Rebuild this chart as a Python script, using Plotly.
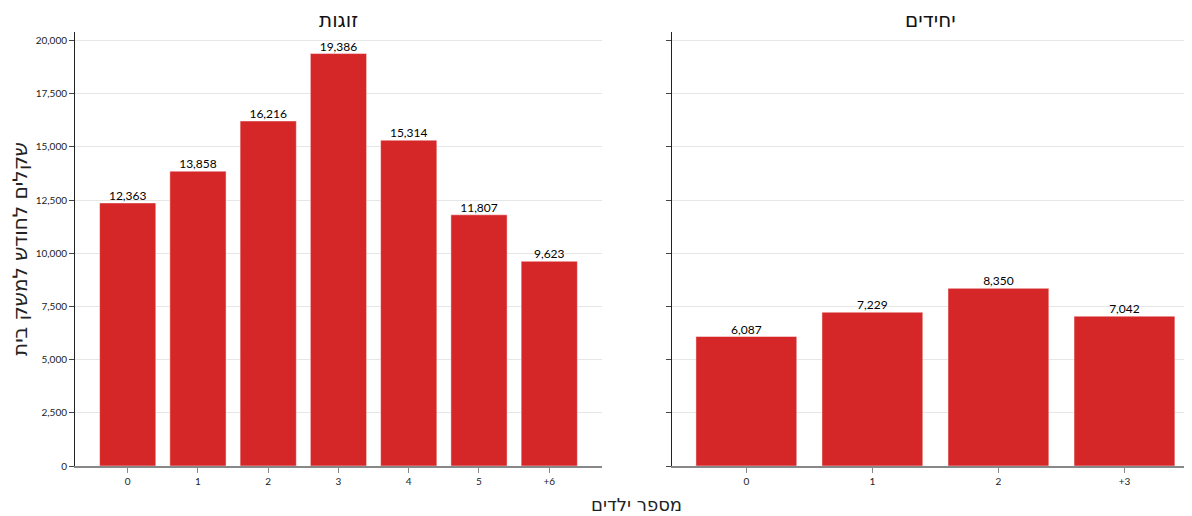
import plotly.graph_objects as go

couples_cats = ["0", "1", "2", "3", "4", "5", "+6"]
couples_vals = [12363, 13858, 16216, 19386, 15314, 11807, 9623]
singles_cats = ["0", "1", "2", "+3"]
singles_vals = [6087, 7229, 8350, 7042]
y_ticks = [0, 2500, 5000, 7500, 10000, 12500, 15000, 17500, 20000]

panel_titles = ["זוגות", "יחידים"]
y_title = "שקלים לחודש למשק בית"
x_title = "מספר ילדים"

RED = "#d62728"
FONT = "Lato"
HEB = "DejaVu Sans"

fig = go.Figure()
for cats, vals, xa, ya in [(couples_cats, couples_vals, "x", "y"),
                           (singles_cats, singles_vals, "x2", "y2")]:
    fig.add_trace(go.Bar(
        x=cats, y=vals, xaxis=xa, yaxis=ya,
        marker=dict(color=RED, line=dict(color="rgba(255,255,255,0.45)", width=1)),
        width=0.8, showlegend=False, hoverinfo="x+y",
    ))
    fig.add_trace(go.Scatter(
        x=cats, y=vals, xaxis=xa, yaxis=ya, mode="text",
        text=[f"{v:,}" for v in vals], textposition="top center",
        textfont=dict(size=12, color="black", family=FONT),
        cliponaxis=False, showlegend=False, hoverinfo="skip",
    ))

yax_common = dict(
    range=[0, 20400], tickvals=y_ticks, tickformat=",",
    showgrid=True, gridcolor="#e6e6e6", gridwidth=1,
    showline=True, linecolor="#222", linewidth=1,
    ticks="outside", ticklen=5, tickcolor="#444",
    tickfont=dict(size=10, family=FONT, color="#222"),
    zeroline=False, automargin=False,
)
xax_common = dict(
    type="category",
    showline=True, linecolor="#888", linewidth=1.5,
    ticks="outside", ticklen=5, tickcolor="#888",
    tickfont=dict(size=10, family=FONT, color="#222"),
    showgrid=False, automargin=False,
)

fig.update_layout(
    width=1184, height=508,
    margin=dict(l=67, r=2, t=24, b=50),
    paper_bgcolor="white", plot_bgcolor="white",
    xaxis=dict(domain=[0, 0.4726], range=[-0.75, 6.75], anchor="y", **xax_common),
    xaxis2=dict(domain=[0.5354, 1], range=[-0.59, 3.52], anchor="y2", **xax_common),
    yaxis=dict(domain=[0, 1], anchor="x",
               title=dict(text=y_title, font=dict(size=20, family=HEB, color="#222"), standoff=12),
               **yax_common),
    yaxis2=dict(domain=[0, 1], anchor="x2", showticklabels=False, matches="y", **yax_common),
    font=dict(family=FONT),
    annotations=[
        dict(text=panel_titles[0], x=0.4726 / 2, y=1, xref="paper", yref="paper",
             xanchor="center", yanchor="middle", yshift=12, showarrow=False,
             font=dict(size=20, family=HEB, color="#111")),
        dict(text=panel_titles[1], x=(0.5354 + 1) / 2, y=1, xref="paper", yref="paper",
             xanchor="center", yanchor="middle", yshift=12, showarrow=False,
             font=dict(size=20, family=HEB, color="#111")),
        dict(text=x_title, x=0.504, y=0, xref="paper", yref="paper",
             xanchor="center", yanchor="middle", yshift=-38, showarrow=False,
             font=dict(size=18, family=HEB, color="#222")),
    ],
)

fig.write_html("out.html")
